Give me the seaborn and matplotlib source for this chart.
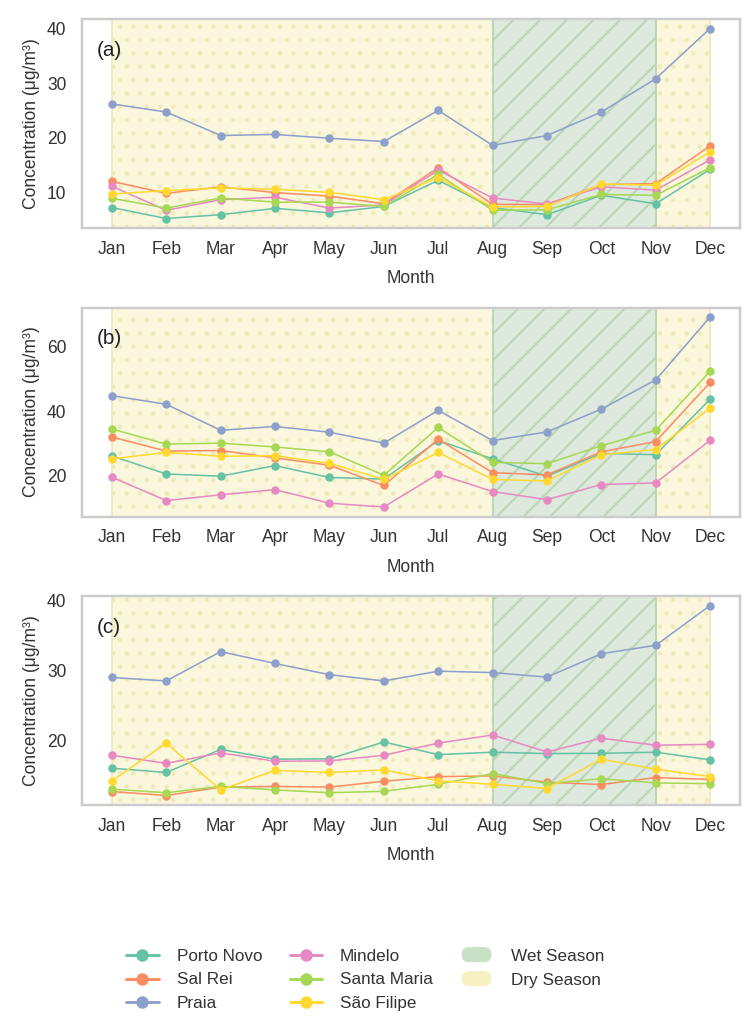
import numpy as np
import pandas as pd
import matplotlib
matplotlib.use("Agg")
import matplotlib.pyplot as plt
import seaborn as sns
from matplotlib.lines import Line2D
from matplotlib.patches import Patch, FancyBboxPatch
from matplotlib.legend_handler import HandlerPatch
from matplotlib.ticker import MultipleLocator

months = ["Jan", "Feb", "Mar", "Apr", "May", "Jun",
          "Jul", "Aug", "Sep", "Oct", "Nov", "Dec"]
cities = ["Porto Novo", "Sal Rei", "Praia", "Mindelo", "Santa Maria", "São Filipe"]

# Panel (a)
a_porto_novo = [7.2, 5.2, 5.9, 7.05, 6.25, 7.4, 12.2, 7.2, 5.9, 9.45, 7.9, 14.2]
a_sal_rei = [12.0, 9.8, 11.0, 9.95, 9.3, 7.9, 14.5, 7.8, 7.75, 11.4, 11.6, 18.5]
a_praia = [26.2, 24.7, 20.4, 20.6, 19.9, 19.3, 25.0, 18.6, 20.4, 24.7, 30.8, 40.0]
a_mindelo = [11.1, 6.7, 8.65, 9.1, 7.1, 7.7, 14.05, 8.95, 7.85, 11.0, 10.4, 15.95]
a_santa_maria = [8.9, 7.1, 8.95, 8.2, 8.2, 7.4, 13.3, 6.7, 6.8, 9.6, 9.45, 14.5]
a_sao_filipe = [9.7, 10.3, 10.8, 10.55, 10.0, 8.65, 12.7, 7.3, 7.4, 11.5, 11.3, 17.4]

# Panel (b)
b_porto_novo = [26.0, 20.4, 19.7, 23.0, 19.3, 18.8, 30.8, 25.1, 19.7, 26.8, 26.4, 43.7]
b_sal_rei = [31.9, 27.5, 27.7, 25.4, 23.1, 16.8, 31.2, 20.8, 20.1, 27.3, 30.5, 48.9]
b_praia = [44.8, 42.1, 34.0, 35.2, 33.4, 30.0, 40.2, 30.8, 33.5, 40.6, 49.7, 69.3]
b_mindelo = [19.4, 12.1, 13.9, 15.5, 11.3, 10.1, 20.4, 14.9, 12.4, 17.1, 17.6, 30.9]
b_santa_maria = [34.4, 29.7, 30.0, 28.8, 27.3, 20.0, 34.9, 24.0, 23.6, 29.2, 34.0, 52.4]
b_sao_filipe = [25.1, 27.1, 25.9, 26.1, 23.7, 18.7, 27.1, 18.7, 18.2, 26.4, 28.0, 40.9]

# Panel (c)
c_porto_novo = [16.0, 15.4, 18.7, 17.3, 17.35, 19.76, 17.95, 18.3, 18.1, 18.14, 18.3, 17.2]
c_sal_rei = [12.67, 12.1, 13.3, 13.4, 13.3, 14.14, 14.8, 14.9, 14.0, 13.67, 14.67, 14.4]
c_praia = [29.0, 28.5, 32.7, 31.0, 29.4, 28.5, 29.9, 29.7, 29.05, 32.4, 33.6, 39.3]
c_mindelo = [17.86, 16.7, 18.2, 17.0, 17.05, 17.86, 19.6, 20.76, 18.33, 20.3, 19.3, 19.43]
c_santa_maria = [13.0, 12.5, 13.4, 12.9, 12.5, 12.7, 13.7, 15.24, 13.8, 14.5, 13.9, 13.8]
c_sao_filipe = [14.2, 19.6, 12.9, 15.7, 15.4, 15.76, 14.2, 13.7, 13.1, 17.3, 15.86, 14.8]

panels = [
    ("(a)", [a_porto_novo, a_sal_rei, a_praia, a_mindelo, a_santa_maria, a_sao_filipe], 10),
    ("(b)", [b_porto_novo, b_sal_rei, b_praia, b_mindelo, b_santa_maria, b_sao_filipe], 20),
    ("(c)", [c_porto_novo, c_sal_rei, c_praia, c_mindelo, c_santa_maria, c_sao_filipe], 10),
]

sns.set_style("white")
plt.rcParams["font.family"] = ["Liberation Sans", "DejaVu Sans"]
plt.rcParams["hatch.linewidth"] = 0.85

DPI = 160
fig = plt.figure(figsize=(753 / DPI, 1029 / DPI), dpi=DPI)
palette = sns.color_palette("Set2", 6)
FS = 7.9
LFS = 7.7

dry_face = "#fbf7dd"
dry_edge = "#efeabb"
wet_face = "#dde9dc"
wet_edge = "#b8d4b3"

bottoms = [1 - 228 / 1029, 1 - 516.5 / 1029, 1 - 805 / 1029]
height = 209 / 1029
left = 82 / 753
width = (740 - 82) / 753

for (tag, series, step), bottom in zip(panels, bottoms):
    ax = fig.add_axes([left, bottom, width, height])
    rows = []
    for city, vals in zip(cities, series):
        for i, v in enumerate(vals):
            rows.append({"MonthIdx": i, "City": city, "Value": v})
    df = pd.DataFrame(rows)

    ax.axvspan(0, 7, facecolor=dry_face, edgecolor=dry_edge, hatch="..", lw=0.8, zorder=0.5)
    ax.axvspan(10, 11, facecolor=dry_face, edgecolor=dry_edge, hatch="..", lw=0.8, zorder=0.5)
    ax.axvspan(7, 10, facecolor=wet_face, edgecolor=wet_edge, hatch="//", lw=0.8, zorder=0.6)

    sns.lineplot(data=df, x="MonthIdx", y="Value", hue="City", hue_order=cities,
                 palette=palette, marker="o", markersize=3.8, markeredgewidth=0,
                 linewidth=0.7, ax=ax, legend=False, zorder=3)

    ax.set_xticks(range(12))
    ax.set_xticklabels(months)
    ax.yaxis.set_major_locator(MultipleLocator(step))
    ax.tick_params(axis="both", labelsize=FS, length=0, colors="#333333")
    ax.tick_params(axis="y", pad=7)
    ax.tick_params(axis="x", pad=5.8)
    ax.set_xlabel("Month", fontsize=FS, color="#333333", labelpad=5.5)
    ax.set_ylabel("Concentration (μg/m³)", fontsize=FS, color="#333333", labelpad=3)
    ax.grid(False)
    for sp in ax.spines.values():
        sp.set_color("#cccccc")
        sp.set_linewidth(1.1)
    ax.text(0.022, 0.85, tag, transform=ax.transAxes, fontsize=9.3, color="#222222",
            va="center", ha="left", zorder=5)


class RoundPatchHandler(HandlerPatch):
    def create_artists(self, legend, orig_handle, xdescent, ydescent,
                       width, height, fontsize, trans):
        h = height * 1.25
        w = width * 0.92
        x0 = -xdescent + (width - w) / 2
        y0 = -ydescent + (height - h) / 2
        p = FancyBboxPatch((x0, y0), w, h,
                           boxstyle=f"round,pad=0,rounding_size={h / 2}",
                           facecolor=orig_handle.get_facecolor(),
                           edgecolor="none", transform=trans)
        return [p]


handles = []
labels = []
for city, col in zip(cities, palette):
    handles.append(Line2D([0], [0], color=col, lw=1.3, marker="o", markersize=5.6,
                          markeredgewidth=0))
    labels.append(city)
handles.append(Patch(facecolor="#c8e0c5"))
labels.append("Wet Season")
handles.append(Patch(facecolor="#f6f0c3"))
labels.append("Dry Season")

leg = fig.legend(handles, labels, loc="center", bbox_to_anchor=(0.485, 1 - 980 / 1029),
                 ncol=3, frameon=False, fontsize=LFS, handlelength=1.9,
                 handletextpad=1.05, columnspacing=1.6, labelspacing=0.52,
                 handler_map={Patch: RoundPatchHandler()})
for t in leg.get_texts():
    t.set_color("#333333")

fig.savefig("out.png", dpi=DPI)
